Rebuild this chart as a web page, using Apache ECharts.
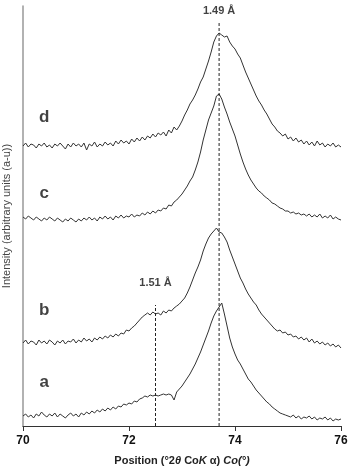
<!DOCTYPE html>
<html>
<head>
<meta charset="utf-8">
<script src="https://cdn.jsdelivr.net/npm/echarts@6/dist/echarts.min.js"></script>
<style>
  html, body { margin: 0; padding: 0; background: #fff; }
  #chart { width: 348px; height: 467px; }
</style>
</head>
<body>
<div id="chart"></div>
<script>
// scan grid: 70 to 76 °2θ, step 0.05
const startPos = 70;
const stepPos = 0.05;

// intensities (arbitrary units, offset per pattern)
const curveA = [10,12,9,11,8,12,10,14,11,9, 12,10,13,9,12,10,8,11,13,10,
  12,9,13,11,14,12,15,13,16,14, 17,15,18,16,19,17,20,19,22,21,
  23,22,25,24,27,28,30,29,31,30, 31,30,31,32,31,32,31,26,34,37,
  40,44,48,52,57,62,68,74,81,88, 95,103,110,115,119,123,112,100,88,79,
  72,66,62,57,52,47,44,40,36,33, 30,27,24,22,19,17,15,13,12,11,
  10,9,11,8,10,7,9,8,10,7, 9,6,8,7,9,6,8,5,7,6, 7];

const curveB = [83,86,82,85,84,81,86,83,85,82, 86,84,81,85,83,86,82,85,84,87,
  83,86,84,88,85,87,84,88,86,89, 87,90,88,91,89,92,90,93,92,96,
  95,98,100,103,106,109,111,113,111,114, 112,113,111,115,113,116,115,118,120,122,
  125,128,133,139,146,153,159,166,175,182, 188,192,195,198,194,193,189,184,176,169,
  162,155,148,143,137,132,128,124,121,116, 112,109,106,103,100,97,95,96,93,94,
  91,92,89,90,87,89,86,88,84,87, 83,85,82,84,81,83,80,82,79,81, 78];

const curveC = [209,207,210,208,206,209,207,205,208,206, 209,207,205,208,206,204,207,205,208,206,
  204,207,205,208,206,209,206,208,205,209, 207,210,207,209,206,210,208,211,208,210,
  209,212,209,211,210,213,211,214,212,215, 213,216,215,218,217,221,220,224,226,229,
  232,236,240,245,249,256,264,274,286,296, 306,313,320,330,332,327,319,312,304,297,
  290,281,272,264,257,251,246,242,238,235, 233,230,228,226,223,222,220,218,217,215,
  215,213,214,212,213,211,212,210,212,209, 211,209,212,208,210,208,211,207,209,207, 206];

const curveD = [280,283,279,282,281,278,282,280,283,279, 281,278,282,280,283,280,277,282,279,283,
  280,282,279,283,276,282,280,284,279,282, 280,284,281,283,280,285,282,286,283,285,
  282,287,284,288,285,289,286,290,288,292, 289,293,291,294,290,296,293,299,296,300,
  305,311,316,322,326,331,337,344,349,357, 365,374,384,390,393,391,389,390,384,380,
  377,372,368,361,354,348,342,336,330,325, 321,316,312,307,302,299,295,293,290,292,
  287,289,285,288,284,286,282,285,281,284, 280,285,281,283,279,282,280,283,279,281, 279];

const curveNames = ['a', 'b', 'c', 'd'];
const curveLabelY = [44, 116, 233, 309];
const peakLines = [
  { pos: 72.5, top: 121, text: '1.51 Å', textY: 143 },
  { pos: 73.7, top: 404, text: '1.49 Å', textY: 415 }
];

const toPairs = (arr) => arr.map((v, i) => [+(startPos + i * stepPos).toFixed(2), v]);

const chart = echarts.init(document.getElementById('chart'));
const font = '"Liberation Sans", Arial, sans-serif';

const series = [curveA, curveB, curveC, curveD].map((arr, k) => ({
  name: curveNames[k],
  type: 'line',
  data: toPairs(arr),
  showSymbol: false,
  lineStyle: { color: '#333', width: 1 },
  silent: true
}));

// dashed peak markers
peakLines.forEach(p => {
  series.push({
    type: 'line',
    data: [[p.pos, 0], [p.pos, p.top]],
    showSymbol: false,
    lineStyle: { color: '#222', width: 1, type: [3, 2] },
    silent: true
  });
});

// text annotations placed in data coordinates
series.push({
  type: 'scatter',
  symbolSize: 0,
  silent: true,
  data: curveNames.map((n, k) => ({ value: [70.4, curveLabelY[k]], name: n })),
  label: {
    show: true, position: 'inside', formatter: '{b}',
    color: '#111', fontSize: 17, fontWeight: 'bold', fontFamily: font
  }
});
series.push({
  type: 'scatter',
  symbolSize: 0,
  silent: true,
  data: peakLines.map(p => ({ value: [p.pos, p.textY], name: p.text })),
  label: {
    show: true, position: 'inside', formatter: '{b}',
    color: '#111', fontSize: 11, fontWeight: 'bold', fontFamily: font
  }
});

const option = {
  animation: false,
  grid: { left: 23, right: 7, top: 6, bottom: 41, outerBoundsMode: 'none', containLabel: false },
  xAxis: {
    type: 'value',
    min: 70,
    max: 76,
    interval: 2,
    name: '{n|Position (°2}{i|θ}{n| Co}{i|K}{n| α) }{i|Co(°)}',
    nameLocation: 'middle',
    nameGap: 29,
    nameTextStyle: {
      rich: {
        n: { fontSize: 11, fontWeight: 'bold', color: '#222', fontFamily: font },
        i: { fontSize: 11, fontWeight: 'bold', fontStyle: 'italic', color: '#222', fontFamily: font }
      }
    },
    axisLine: { lineStyle: { color: '#333', width: 1.2 } },
    axisTick: { show: true, length: 5, lineStyle: { color: '#333' } },
    axisLabel: { color: '#111', fontSize: 12, fontWeight: 'bold', fontFamily: font, margin: 9 },
    splitLine: { show: false }
  },
  yAxis: {
    type: 'value',
    min: 0,
    max: 420,
    name: 'Intensity (arbitrary units (a-u))',
    nameLocation: 'middle',
    nameGap: 11,
    nameTextStyle: { color: '#444', fontSize: 11, fontFamily: font },
    axisLine: { show: true, lineStyle: { color: '#999', width: 1.5 } },
    axisTick: { show: false },
    axisLabel: { show: false },
    splitLine: { show: false }
  },
  series: series
};

chart.setOption(option);
window.addEventListener('resize', () => chart.resize());
</script>
</body>
</html>
